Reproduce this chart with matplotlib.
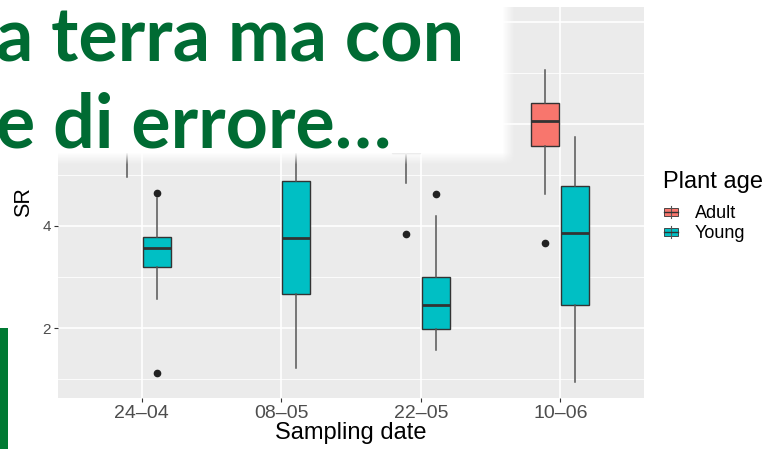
import matplotlib.pyplot as plt
import numpy as np
from matplotlib.patches import Rectangle

dates = ["24\u201304", "08\u201305", "22\u201305", "10\u201306"]
ages = ["Adult", "Young"]

# box statistics per sampling date
adult_q1 = [5.95, 6.25, 5.42, 5.57]
adult_med = [6.30, 6.55, 5.75, 6.06]
adult_q3 = [6.65, 6.90, 6.10, 6.41]
adult_lo = [4.95, 5.55, 4.85, 4.62]
adult_hi = [7.30, 7.60, 6.80, 7.06]
adult_out = [[], [], [3.84], [3.66]]

young_q1 = [3.19, 2.66, 1.99, 2.45]
young_med = [3.57, 3.77, 2.46, 3.86]
young_q3 = [3.78, 4.89, 3.00, 4.78]
young_lo = [2.57, 1.21, 1.57, 0.95]
young_hi = [4.55, 6.10, 4.20, 5.75]
young_out = [[4.65, 1.12], [], [4.62], []]

colors = {"Adult": "#F8766D", "Young": "#00BFC4"}
dark = "#333333"
whisk = "#555555"
green = "#006B33"


def make_stats(q1, med, q3, lo, hi, out):
    return [dict(q1=a, med=b, q3=c, whislo=d, whishi=e, fliers=f)
            for a, b, c, d, e, f in zip(q1, med, q3, lo, hi, out)]


W, H = 766, 449
fig = plt.figure(figsize=(W / 100, H / 100), dpi=100)
ax = fig.add_axes([58 / W, (H - 398) / H, (644 - 58) / W, (398 - 7) / H])
ax.set_facecolor("#EBEBEB")

x = np.arange(1, len(dates) + 1)
groups = [
    ("Adult", x - 0.107, make_stats(adult_q1, adult_med, adult_q3, adult_lo, adult_hi, adult_out)),
    ("Young", x + 0.107, make_stats(young_q1, young_med, young_q3, young_lo, young_hi, young_out)),
]
for name, pos, st in groups:
    ax.bxp(st, positions=pos, widths=0.2, patch_artist=True, showcaps=False,
           manage_ticks=False,
           boxprops=dict(facecolor=colors[name], edgecolor=dark, linewidth=1.0),
           medianprops=dict(color=dark, linewidth=2.0),
           whiskerprops=dict(color=whisk, linewidth=1.1),
           flierprops=dict(marker="o", markerfacecolor="#222222",
                           markeredgecolor="#222222", markersize=4.5))

ax.set_xlim(0.4, 4.6)
ax.set_ylim(0.63, 8.29)
ax.set_xticks(x)
ax.set_xticklabels(dates, fontsize=14, color="#4D4D4D", family="Liberation Sans")
ax.set_yticks([2, 4, 6, 8])
ax.set_yticklabels(["2", "4", "6", "8"], fontsize=11, color="#4D4D4D", family="Liberation Sans")
ax.set_yticks([1, 3, 5, 7], minor=True)
ax.tick_params(axis="both", which="major", length=3, color=dark, width=0.8, pad=2)
ax.tick_params(axis="y", which="minor", length=0)
ax.grid(which="major", color="white", linewidth=1.2)
ax.grid(which="minor", axis="y", color="white", linewidth=0.6)
ax.set_axisbelow(True)
for s in ax.spines.values():
    s.set_visible(False)
ax.set_xlabel("Sampling date", fontsize=17, family="Liberation Sans", labelpad=0)
ax.set_ylabel("SR", fontsize=15.5, family="Liberation Sans", labelpad=6)

# overlay layer in pixel coordinates
ov = fig.add_axes([0, 0, 1, 1], zorder=5)
ov.set_xlim(0, W)
ov.set_ylim(H, 0)
ov.axis("off")

# legend: boxplot keys
ov.text(663, 188, "Plant age", fontsize=17, family="Liberation Sans", va="baseline", ha="left")
for name, cy in [("Adult", 212), ("Young", 232)]:
    ov.plot([671, 671], [cy - 6, cy + 6], color=whisk, lw=0.8)
    ov.add_patch(Rectangle((664, cy - 4), 14, 8, facecolor=colors[name],
                           edgecolor=dark, lw=0.6))
    ov.plot([664, 678], [cy, cy], color=dark, lw=1.0)
    ov.text(695, cy + 6, name, fontsize=13, family="Liberation Sans",
            va="baseline", ha="left")

# white panel with soft edges and headline text
px = np.arange(W)[None, :]
py = np.arange(H)[:, None]
alpha = np.clip((514 - px) / 12, 0, 1) * np.clip((164 - py) / 12, 0, 1)
rgba = np.ones((H, W, 4))
rgba[..., 3] = alpha
ov.imshow(rgba, extent=(0, W, H, 0), aspect="auto", interpolation="bilinear")
ov.text(-4, 62, "a terra ma con", color=green, fontsize=53, fontweight="bold",
        family="Lato", va="baseline", ha="left")
ov.text(-4, 148, "e di errore\u2026", color=green, fontsize=53, fontweight="bold",
        family="Lato", va="baseline", ha="left")
ov.add_patch(Rectangle((0, 328), 8, H - 328, facecolor="#007A33", edgecolor="none"))

fig.savefig("out.png", dpi=100)
